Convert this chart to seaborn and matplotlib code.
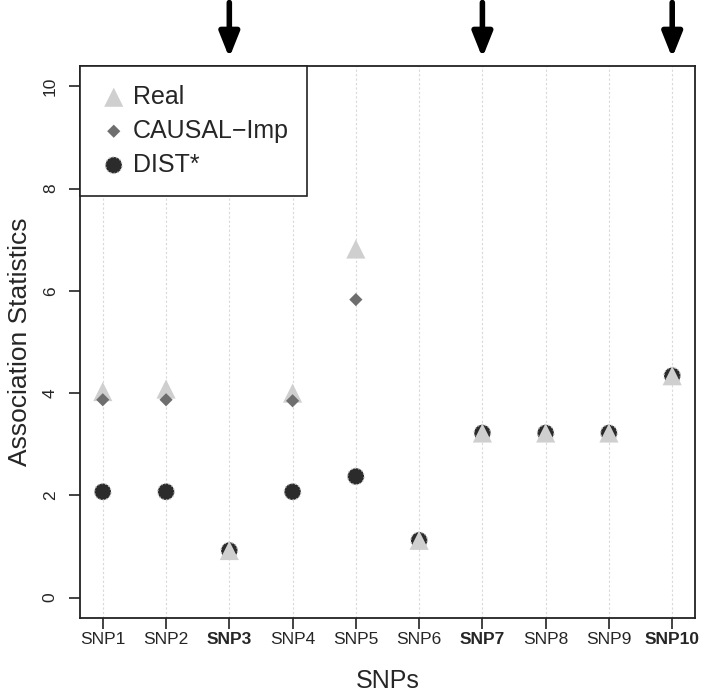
import numpy as np
import pandas as pd
import matplotlib
matplotlib.use("Agg")
import matplotlib.pyplot as plt
import seaborn as sns

# =======================
# Data
# =======================
snps = ["SNP1", "SNP2", "SNP3", "SNP4", "SNP5", "SNP6", "SNP7", "SNP8", "SNP9", "SNP10"]
causal_snps = ["SNP3", "SNP7", "SNP10"]
real = [4.03, 4.08, 0.92, 4.00, 6.82, 1.12, 3.22, 3.22, 3.22, 4.34]
causal_imp = [3.87, 3.87, np.nan, 3.85, 5.83, np.nan, np.nan, np.nan, np.nan, np.nan]
dist_star = [2.07, 2.07, 0.92, 2.07, 2.37, 1.12, 3.22, 3.22, 3.22, 4.34]
yticks = [0, 2, 4, 6, 8, 10]

df = pd.DataFrame({"pos": np.arange(1, len(snps) + 1), "snp": snps,
                   "Real": real, "CAUSAL-Imp": causal_imp, "DIST*": dist_star})

# =======================
# Style
# =======================
sns.set_style("white")
plt.rcParams["font.family"] = ["Liberation Sans", "DejaVu Sans"]

fig = plt.figure(figsize=(7.03, 6.95), dpi=100)
ax = fig.add_axes([0.1138, 0.1108, 0.8748, 0.7942])

# vertical dotted guides
for p in df["pos"]:
    ax.axvline(p, color="#d8d8d8", lw=0.8, ls=(0, (2, 2)), zorder=0)

# DIST* first, then Real, then CAUSAL-Imp on top
sns.scatterplot(data=df, x="pos", y="DIST*", ax=ax, marker="o", s=140,
                color="#2b2b2b", edgecolor="none", zorder=2, legend=False)
ax.scatter(df["pos"], df["DIST*"], marker="o", s=140, facecolor="none",
           edgecolor="#bdbdbd", linewidths=1.0, linestyles=":", zorder=2.1)
sns.scatterplot(data=df, x="pos", y="Real", ax=ax, marker="^", s=190,
                color="#cfcfcf", edgecolor="none", zorder=3, legend=False)
sns.scatterplot(data=df.dropna(subset=["CAUSAL-Imp"]), x="pos", y="CAUSAL-Imp", ax=ax,
                marker="D", s=45, color="#6e6e6e", edgecolor="none", zorder=4, legend=False)

ax.set_xlim(0.64, 10.36)
ax.set_ylim(-0.4, 10.4)
ax.set_xticks(df["pos"])
ax.set_xticklabels(snps, fontsize=12.5)
for lab in ax.get_xticklabels():
    if lab.get_text() in causal_snps:
        lab.set_fontweight("bold")
ax.set_yticks(yticks)
ax.set_yticklabels([str(t) for t in yticks], fontsize=12.5, rotation=90, va="center")
ax.tick_params(axis="both", direction="out", length=8, width=1.2, color="#222222",
               bottom=True, left=True)
ax.tick_params(axis="x", pad=2)
ax.tick_params(axis="y", pad=8)
for sp in ax.spines.values():
    sp.set_color("#222222")
    sp.set_linewidth(1.3)

ax.set_xlabel("SNPs", fontsize=18, labelpad=16)
ax.set_ylabel("Association Statistics", fontsize=19, labelpad=8)

# legend
h_real = ax.scatter([], [], marker="^", s=190, color="#cfcfcf", edgecolor="none")
h_causal = ax.scatter([], [], marker="D", s=45, color="#6e6e6e", edgecolor="none")
h_dist = ax.scatter([], [], marker="o", s=140, color="#2b2b2b", edgecolor="#bdbdbd",
                    linewidths=1.0, linestyles=":")
leg = ax.legend([h_real, h_causal, h_dist], ["Real", "CAUSAL\u2212Imp", "DIST*"],
                loc="upper left", bbox_to_anchor=(0, 1), borderaxespad=0, fontsize=18,
                frameon=True, fancybox=False, handletextpad=0.15, labelspacing=0.4,
                borderpad=0.75, handlelength=1.2)
leg.get_frame().set_edgecolor("#222222")
leg.get_frame().set_linewidth(1.2)
leg.get_frame().set_alpha(1)

# arrows marking the causal SNPs above the plot
for name in causal_snps:
    xp = snps.index(name) + 1
    ax.annotate("", xy=(xp, 1.015), xytext=(xp, 1.115),
                xycoords=("data", "axes fraction"), textcoords=("data", "axes fraction"),
                arrowprops=dict(arrowstyle="-|>,head_width=0.6,head_length=1.5",
                                lw=4, color="black", shrinkA=0, shrinkB=0),
                annotation_clip=False)

fig.savefig("out.png", dpi=100)
